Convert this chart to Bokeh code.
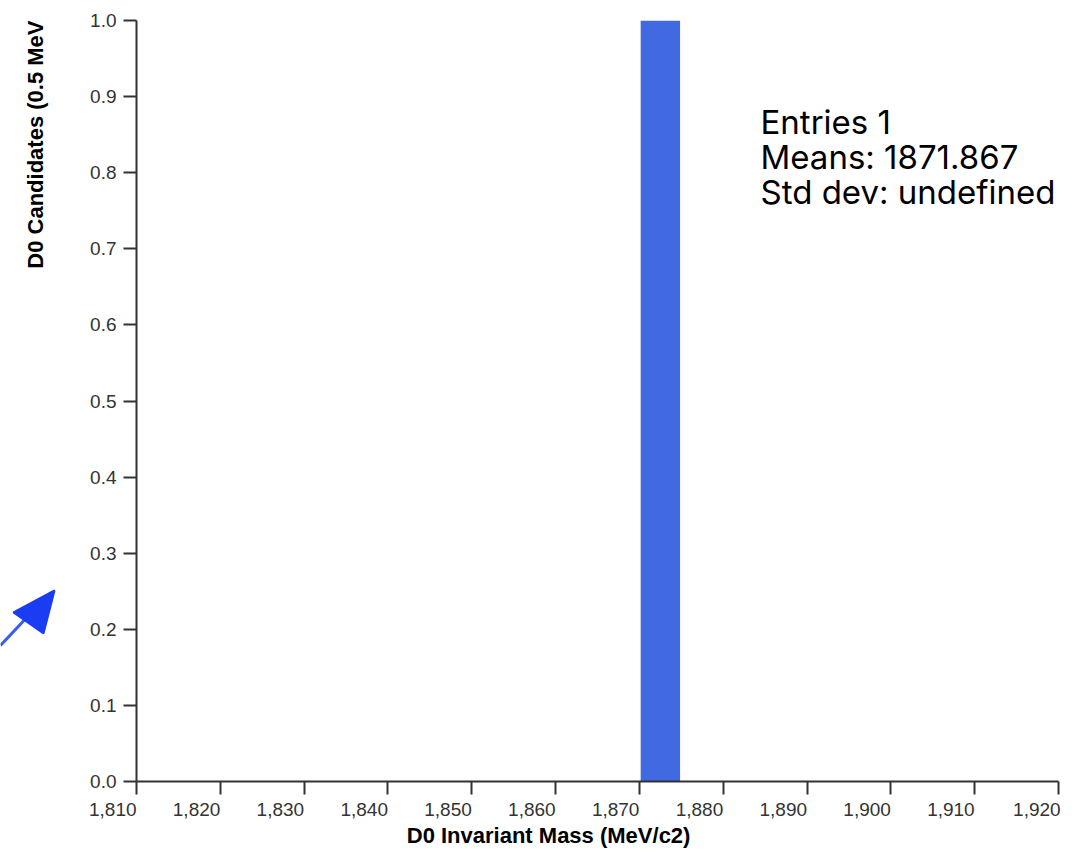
import math
from bokeh.plotting import figure
from bokeh.layouts import row
from bokeh.models import Label, NumeralTickFormatter, Range1d, FixedTicker
from bokeh.core.properties import value
from bokeh.embed import file_html
from bokeh.resources import INLINE

# ---- data ----
bin_left = [1870.0]
bin_width = 5.0
counts = [1]
n_entries = 1
mass_mean = 1871.867
std_text = "undefined"
x_ticks = [1810, 1820, 1830, 1840, 1850, 1860, 1870, 1880, 1890, 1900, 1910, 1920]
x_tick_labels = ["1,810", "1,820", "1,830", "1,840", "1,850", "1,860",
                 "1,870", "1,880", "1,890", "1,900", "1,910", "1,920"]
y_ticks = [0.0, 0.1, 0.2, 0.3, 0.4, 0.5, 0.6, 0.7, 0.8, 0.9, 1.0]
x_title = "D0 Invariant Mass (MeV/c2)"
y_title = "D0 Candidates (0.5 MeV"

FONT = "Liberation Sans"
AX = "#333333"
NB = "\u00a0"
STRIP_W = 60
H = 850
TOP = 20
BOTTOM = 69
FRAME_H = H - TOP - BOTTOM   # 761

# ---------- left strip: y title + blue arrow ----------
s = figure(width=STRIP_W, height=H, title=None,
           x_range=Range1d(0, STRIP_W), y_range=Range1d(0, FRAME_H),
           x_axis_type=None, y_axis_type=None, output_backend="svg",
           toolbar_location=None, min_border_left=0, min_border_right=0,
           min_border_top=TOP, min_border_bottom=BOTTOM)
s.outline_line_color = None
s.grid.visible = False

def up(py):  # page-y (from top) -> strip frame y
    return TOP + FRAME_H - py

s.text(x=[35], y=[up(20)], text=[y_title], angle=math.pi / 2,
       text_align="right", text_baseline="middle",
       text_font=value(FONT), text_font_style="bold", text_font_size="22px",
       text_color="black")
s.line(x=[0, 30], y=[up(645), up(613)], line_color="#3a5cf5", line_width=3)
s.patch(x=[13, 54, 43], y=[up(612), up(590), up(633)],
        fill_color="#1a3cf2", line_color="#1a3cf2", line_width=2)

# ---------- main histogram ----------
p = figure(width=1076 - STRIP_W, height=H,
           x_range=Range1d(1810, 1920), y_range=Range1d(0, 1),
           output_backend="svg", toolbar_location=None,
           min_border_left=136 - STRIP_W, min_border_right=18,
           min_border_top=TOP, min_border_bottom=BOTTOM)
p.grid.visible = False
p.outline_line_color = None

centers = [l + bin_width / 2 for l in bin_left]
p.vbar(x=centers, top=counts, bottom=0, width=bin_width * 0.94,
       fill_color="#4169E1", line_color=None)

for ax in (p.xaxis[0], p.yaxis[0]):
    ax.axis_line_color = AX
    ax.axis_line_width = 2
    ax.major_tick_line_color = AX
    ax.major_tick_line_width = 2
    ax.major_tick_out = 13
    ax.major_tick_in = 0
    ax.minor_tick_line_color = None
    ax.major_label_text_font = FONT
    ax.major_label_text_font_size = "19px"
    ax.major_label_text_color = AX

p.yaxis.ticker = FixedTicker(ticks=y_ticks)
p.yaxis.formatter = NumeralTickFormatter(format="0.0")
p.yaxis.major_label_standoff = 7

# x tick labels: right edge of each label sits at its tick
p.xaxis.ticker = FixedTicker(ticks=x_ticks)
overrides = {v: t + NB * 9 for v, t in zip(x_ticks, x_tick_labels)}
overrides[x_ticks[-1]] = x_tick_labels[-1] + NB * 3   # last one is pushed in by the edge
p.xaxis.major_label_overrides = overrides
p.xaxis.major_label_standoff = 4

xax = p.xaxis[0]
xax.axis_label = x_title + NB * 16
xax.axis_label_text_font = FONT
xax.axis_label_text_font_style = "bold"
xax.axis_label_text_font_size = "22px"
xax.axis_label_text_color = "black"
xax.axis_label_standoff = 0

# statistics box
stats = [f"Entries {n_entries}", f"Means: {mass_mean:.3f}", f"Std dev: {std_text}"]
for i, txt in enumerate(stats):
    p.add_layout(Label(x=624, y=660 - 35 * i, x_units="screen", y_units="screen",
                       text=txt, text_align="left", text_baseline="middle",
                       text_font="Inter", text_font_size="33px", text_color="black"))

layout = row(s, p)
open("out.html", "w").write(file_html(layout, INLINE))
